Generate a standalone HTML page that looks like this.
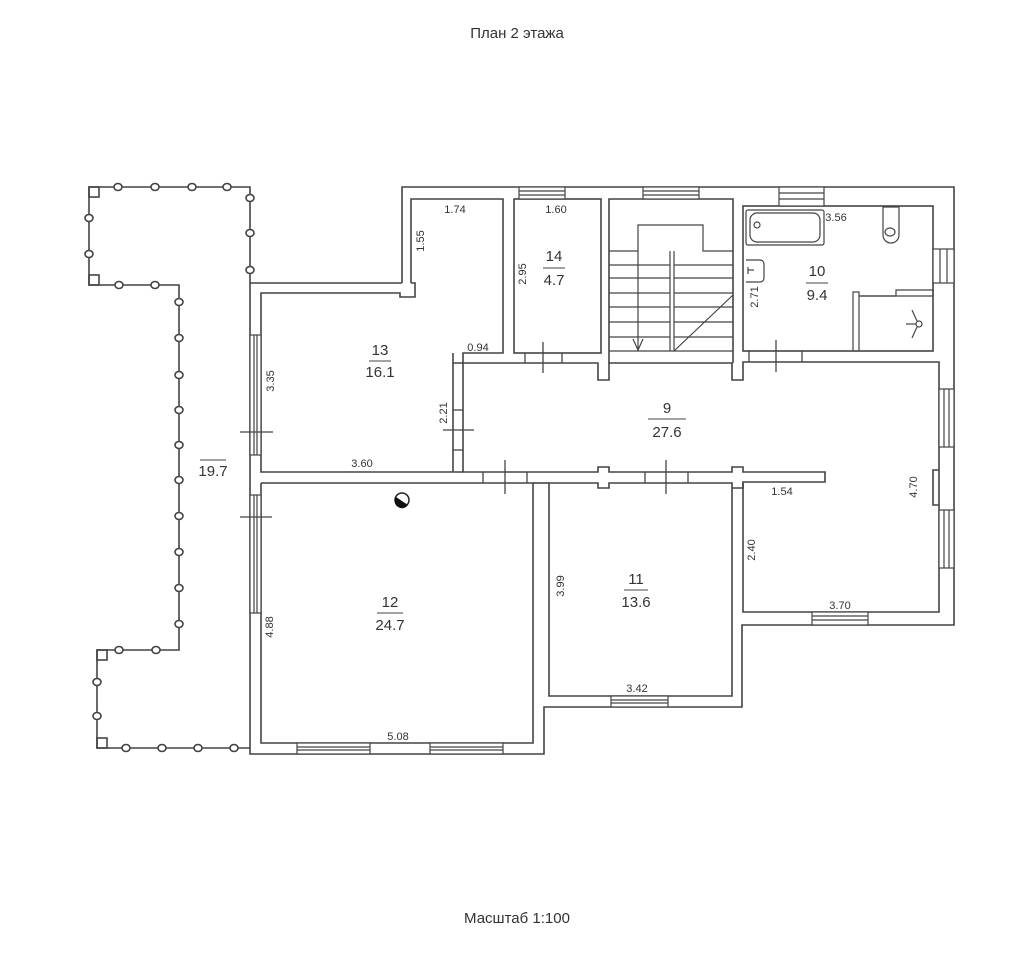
<!DOCTYPE html>
<html><head><meta charset="utf-8"><style>
html,body{margin:0;padding:0;background:#fff;}
svg{display:block;}
text{font-family:"Liberation Sans","DejaVu Sans",sans-serif;fill:#333;}
</style></head><body>
<svg width="1035" height="960" viewBox="0 0 1035 960" xmlns="http://www.w3.org/2000/svg">
<g stroke="#444" stroke-width="1.6" fill="none">
<!-- terrace -->
<polyline points="250,283 250,187 89,187 89,285 179,285 179,650 97,650 97,748 250,748"/>
<rect x="89" y="187" width="10" height="10"/>
<rect x="89" y="275" width="10" height="10"/>
<rect x="97" y="650" width="10" height="10"/>
<rect x="97" y="738" width="10" height="10"/>
<g fill="#fff">
<ellipse cx="118" cy="187" rx="4" ry="3.5"/><ellipse cx="155" cy="187" rx="4" ry="3.5"/><ellipse cx="192" cy="187" rx="4" ry="3.5"/><ellipse cx="227" cy="187" rx="4" ry="3.5"/>
<ellipse cx="250" cy="198" rx="4" ry="3.5"/><ellipse cx="250" cy="233" rx="4" ry="3.5"/><ellipse cx="250" cy="270" rx="4" ry="3.5"/>
<ellipse cx="89" cy="218" rx="4" ry="3.5"/><ellipse cx="89" cy="254" rx="4" ry="3.5"/>
<ellipse cx="119" cy="285" rx="4" ry="3.5"/><ellipse cx="155" cy="285" rx="4" ry="3.5"/>
<ellipse cx="179" cy="302" rx="4" ry="3.5"/><ellipse cx="179" cy="338" rx="4" ry="3.5"/><ellipse cx="179" cy="375" rx="4" ry="3.5"/><ellipse cx="179" cy="410" rx="4" ry="3.5"/><ellipse cx="179" cy="445" rx="4" ry="3.5"/><ellipse cx="179" cy="480" rx="4" ry="3.5"/><ellipse cx="179" cy="516" rx="4" ry="3.5"/><ellipse cx="179" cy="552" rx="4" ry="3.5"/><ellipse cx="179" cy="588" rx="4" ry="3.5"/><ellipse cx="179" cy="624" rx="4" ry="3.5"/>
<ellipse cx="119" cy="650" rx="4" ry="3.5"/><ellipse cx="156" cy="650" rx="4" ry="3.5"/>
<ellipse cx="97" cy="682" rx="4" ry="3.5"/><ellipse cx="97" cy="716" rx="4" ry="3.5"/>
<ellipse cx="126" cy="748" rx="4" ry="3.5"/><ellipse cx="162" cy="748" rx="4" ry="3.5"/><ellipse cx="198" cy="748" rx="4" ry="3.5"/><ellipse cx="234" cy="748" rx="4" ry="3.5"/>
</g>
<!-- outer walls -->
<polyline points="402,283 402,187 954,187 954,625 742,625 742,707 544,707 544,754 250,754 250,283 402,283"/>
<!-- room 13 -->
<polyline points="411,283 411,199 503,199 503,353 463,353 463,472 261,472 261,293 400,293 400,297 415,297 415,283 411,283"/>
<polyline points="453,353 453,472"/>
<polyline points="453,363 598,363 598,380 609,380 609,363 732,363 732,380 743,380 743,362 939,362 939,612 743,612 743,483"/>
<!-- room 14 -->
<rect x="514" y="199" width="87" height="154"/>
<!-- stairs room -->
<polyline points="609,363 609,199 733,199 733,363"/>
<!-- room 10 -->
<rect x="743" y="206" width="190" height="145"/>
<!-- corridor bottom wall -->
<polyline points="463,472 598,472 598,467 609,467 609,472 732,472 732,467 743,467 743,472 825,472 825,482 743,482 743,488 732,488 732,483 609,483 609,488 598,488 598,483 549,483 549,696 732,696 732,483"/>
<polyline points="261,483 533,483 533,743 261,743 261,483"/>
<line x1="533" y1="483" x2="549" y2="483"/>
<!-- right pilaster -->
<polyline points="939,470 933,470 933,505 939,505"/>
</g>
<!-- windows -->
<g stroke="#444" stroke-width="1.2" fill="#fff">
<rect x="519" y="187" width="46" height="12"/><line x1="519" y1="191" x2="565" y2="191"/><line x1="519" y1="195" x2="565" y2="195"/>
<rect x="643" y="187" width="56" height="12"/><line x1="643" y1="191" x2="699" y2="191"/><line x1="643" y1="195" x2="699" y2="195"/>
<rect x="779" y="187" width="45" height="19"/><line x1="779" y1="193" x2="824" y2="193"/><line x1="779" y1="199" x2="824" y2="199"/>
<rect x="933" y="249" width="21" height="34"/><line x1="940" y1="249" x2="940" y2="283"/><line x1="947" y1="249" x2="947" y2="283"/>
<rect x="939" y="389" width="15" height="58"/><line x1="944" y1="389" x2="944" y2="447"/><line x1="949" y1="389" x2="949" y2="447"/>
<rect x="939" y="510" width="15" height="58"/><line x1="944" y1="510" x2="944" y2="568"/><line x1="949" y1="510" x2="949" y2="568"/>
<rect x="812" y="612" width="56" height="13"/><line x1="812" y1="616" x2="868" y2="616"/><line x1="812" y1="620" x2="868" y2="620"/>
<rect x="611" y="696" width="57" height="11"/><line x1="611" y1="700" x2="668" y2="700"/><line x1="611" y1="703" x2="668" y2="703"/>
<rect x="297" y="743" width="73" height="11"/><line x1="297" y1="747" x2="370" y2="747"/><line x1="297" y1="750" x2="370" y2="750"/>
<rect x="430" y="743" width="73" height="11"/><line x1="430" y1="747" x2="503" y2="747"/><line x1="430" y1="750" x2="503" y2="750"/>
<rect x="250" y="335" width="11" height="120"/><line x1="254" y1="335" x2="254" y2="455"/><line x1="257" y1="335" x2="257" y2="455"/>
<rect x="250" y="495" width="11" height="118"/><line x1="254" y1="495" x2="254" y2="613"/><line x1="257" y1="495" x2="257" y2="613"/>
</g>
<!-- doors -->
<g stroke="#444" stroke-width="1.3" fill="#fff">
<rect x="526" y="354" width="35" height="8" stroke="none"/><line x1="525" y1="353" x2="525" y2="363"/><line x1="562" y1="353" x2="562" y2="363"/><line x1="543" y1="342" x2="543" y2="373"/>
<rect x="750" y="352" width="51" height="9" stroke="none"/><line x1="749" y1="351" x2="749" y2="362"/><line x1="802" y1="351" x2="802" y2="362"/><line x1="776" y1="340" x2="776" y2="372"/>
<rect x="454" y="411" width="8" height="38" stroke="none"/><line x1="453" y1="410" x2="463" y2="410"/><line x1="453" y1="450" x2="463" y2="450"/><line x1="443" y1="430" x2="474" y2="430"/>
<rect x="484" y="473" width="42" height="9" stroke="none"/><line x1="483" y1="472" x2="483" y2="483"/><line x1="527" y1="472" x2="527" y2="483"/><line x1="505" y1="460" x2="505" y2="494"/>
<rect x="646" y="473" width="41" height="9" stroke="none"/><line x1="645" y1="472" x2="645" y2="483"/><line x1="688" y1="472" x2="688" y2="483"/><line x1="666" y1="460" x2="666" y2="494"/>
<line x1="240" y1="432" x2="273" y2="432"/>
<line x1="240" y1="517" x2="272" y2="517"/>
</g>
<!-- stairs -->
<g stroke="#444" stroke-width="1.2" fill="none">
<polyline points="609,251 638,251 638,225 703,225 703,251 733,251"/>
<line x1="638" y1="251" x2="638" y2="351"/>
<line x1="670" y1="251" x2="670" y2="351"/><line x1="674" y1="251" x2="674" y2="351"/>
<line x1="609" y1="265" x2="670" y2="265"/><line x1="674" y1="265" x2="733" y2="265"/>
<line x1="609" y1="278" x2="670" y2="278"/><line x1="674" y1="278" x2="733" y2="278"/>
<line x1="609" y1="293" x2="670" y2="293"/><line x1="674" y1="293" x2="733" y2="293"/>
<line x1="609" y1="307" x2="670" y2="307"/><line x1="674" y1="307" x2="733" y2="307"/>
<line x1="609" y1="322" x2="670" y2="322"/><line x1="674" y1="322" x2="733" y2="322"/>
<line x1="609" y1="337" x2="670" y2="337"/><line x1="674" y1="337" x2="733" y2="337"/>
<line x1="609" y1="351" x2="733" y2="351"/>
<polyline points="633,339 638,350 643,339"/>
<line x1="674" y1="351" x2="733" y2="295"/>
<!-- bathroom fixtures -->
<rect x="746" y="210" width="78" height="35" rx="2"/>
<rect x="750" y="213" width="70" height="29" rx="7"/>
<circle cx="757" cy="225" r="3"/>
<path d="M883,207 h16 v28 a8,8 0 0 1 -16,0 z"/>
<ellipse cx="890" cy="232" rx="5" ry="4"/>
<path d="M746,260 h14 a4,4 0 0 1 4,4 v14 a4,4 0 0 1 -4,4 h-14"/>
<line x1="748" y1="270" x2="754" y2="270"/><line x1="748" y1="267" x2="748" y2="274"/>
<polyline points="853,351 853,292 859,292 859,351"/>
<polyline points="859,296 896,296 896,290 933,290 933,296"/>
<line x1="859" y1="296" x2="933" y2="296"/>
<circle cx="919" cy="324" r="3"/>
<line x1="906" y1="324" x2="916" y2="324"/><line x1="917" y1="321" x2="912" y2="310"/><line x1="917" y1="327" x2="912" y2="338"/>
</g>
<!-- sensor -->
<circle cx="402" cy="500" r="7" fill="#fff" stroke="#222" stroke-width="1.5"/>
<path d="M396,497 L408,505 A7,7 0 0 1 396,497 Z" fill="#111"/>
<!-- labels -->
<g font-size="15" text-anchor="middle">
<text x="517" y="38">План 2 этажа</text>
<text x="517" y="923">Масштаб 1:100</text>
<text x="380" y="355">13</text><text x="380" y="377">16.1</text>
<text x="554" y="261">14</text><text x="554" y="285">4.7</text>
<text x="817" y="276">10</text><text x="817" y="300">9.4</text>
<text x="667" y="413">9</text><text x="667" y="437">27.6</text>
<text x="390" y="607">12</text><text x="390" y="630">24.7</text>
<text x="636" y="584">11</text><text x="636" y="607">13.6</text>
<text x="213" y="476">19.7</text>
</g>
<g stroke="#444" stroke-width="1">
<line x1="369" y1="361" x2="391" y2="361"/><line x1="543" y1="268" x2="565" y2="268"/><line x1="806" y1="283" x2="828" y2="283"/>
<line x1="648" y1="419" x2="686" y2="419"/><line x1="377" y1="613" x2="403" y2="613"/><line x1="624" y1="590" x2="648" y2="590"/>
<line x1="200" y1="460" x2="226" y2="460"/>
</g>
<g font-size="11" text-anchor="middle">
<text x="455" y="213">1.74</text><text x="556" y="213">1.60</text><text x="836" y="221">3.56</text>
<text x="478" y="351">0.94</text><text x="362" y="467">3.60</text><text x="782" y="495">1.54</text>
<text x="840" y="609">3.70</text><text x="637" y="692">3.42</text><text x="398" y="740">5.08</text>
<text transform="translate(424,241) rotate(-90)">1.55</text>
<text transform="translate(526,274) rotate(-90)">2.95</text>
<text transform="translate(274,381) rotate(-90)">3.35</text>
<text transform="translate(447,413) rotate(-90)">2.21</text>
<text transform="translate(758,297) rotate(-90)">2.71</text>
<text transform="translate(917,487) rotate(-90)">4.70</text>
<text transform="translate(755,550) rotate(-90)">2.40</text>
<text transform="translate(564,586) rotate(-90)">3.99</text>
<text transform="translate(273,627) rotate(-90)">4.88</text>
</g>
</svg>
</body></html>
